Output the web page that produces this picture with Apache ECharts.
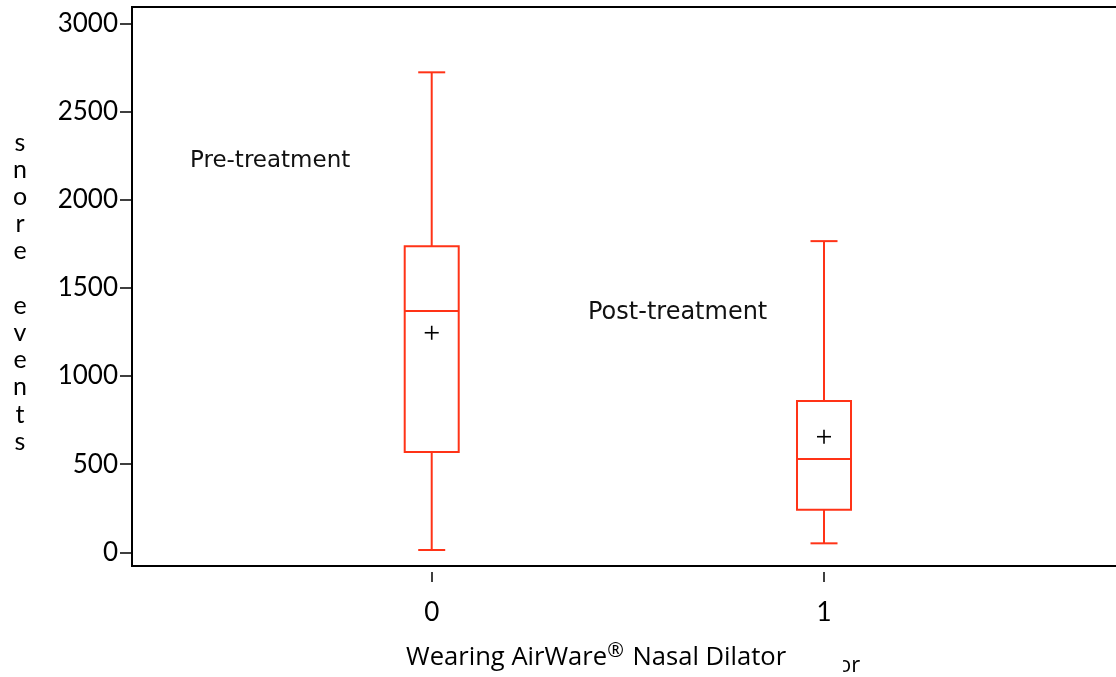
<!DOCTYPE html>
<html>
<head>
<meta charset="utf-8">
<script src="https://cdn.jsdelivr.net/npm/echarts@6/dist/echarts.min.js"></script>
<style>
html,body{margin:0;padding:0;background:#fff;}
#chart{width:1116px;height:677px;}
</style>
</head>
<body>
<div id="chart"></div>
<script>
const categories = [0, 1];
const whiskerLow = [13, 51];
const q1 = [569, 242];
const median = [1370, 529];
const q3 = [1737, 858];
const whiskerHigh = [2724, 1766];
const meanValues = [1246, 656];
const yTicks = [0, 500, 1000, 1500, 2000, 2500, 3000];
const groupLabels = ['Pre-treatment', 'Post-treatment'];
const yTitle = 'snore events';
const xTitleParts = ['Wearing AirWare', '\u00AE', ' Nasal Dilator'];

const RED = '#ff3317';
const boxData = categories.map((c, i) => [c, whiskerLow[i], q1[i], median[i], q3[i], whiskerHigh[i], meanValues[i]]);

function renderBox(params, api) {
  const x = api.value(0);
  const pLow = api.coord([x, api.value(1)]);
  const pQ1 = api.coord([x, api.value(2)]);
  const pMed = api.coord([x, api.value(3)]);
  const pQ3 = api.coord([x, api.value(4)]);
  const pHigh = api.coord([x, api.value(5)]);
  const pMean = api.coord([x, api.value(6)]);
  const cx = pQ1[0];
  const hw = 27, cw = 13.5, pm = 7;
  const ls = {stroke: RED, lineWidth: 2, fill: null};
  return {
    type: 'group',
    children: [
      {type: 'line', shape: {x1: cx, y1: pHigh[1], x2: cx, y2: pQ3[1]}, style: ls},
      {type: 'line', shape: {x1: cx - cw, y1: pHigh[1], x2: cx + cw, y2: pHigh[1]}, style: ls},
      {type: 'line', shape: {x1: cx, y1: pLow[1], x2: cx, y2: pQ1[1]}, style: ls},
      {type: 'line', shape: {x1: cx - cw, y1: pLow[1], x2: cx + cw, y2: pLow[1]}, style: ls},
      {type: 'rect', shape: {x: cx - hw, y: pQ3[1], width: hw * 2, height: pQ1[1] - pQ3[1]}, style: {stroke: RED, lineWidth: 2, fill: 'none'}},
      {type: 'line', shape: {x1: cx - hw, y1: pMed[1], x2: cx + hw, y2: pMed[1]}, style: ls},
      {type: 'line', shape: {x1: cx - pm, y1: pMean[1], x2: cx + pm, y2: pMean[1]}, style: {stroke: '#000', lineWidth: 1.6}},
      {type: 'line', shape: {x1: cx, y1: pMean[1] - pm, x2: cx, y2: pMean[1] + pm}, style: {stroke: '#000', lineWidth: 1.6}}
    ]
  };
}

const chart = echarts.init(document.getElementById('chart'), null, {renderer: 'canvas'});
chart.setOption({
  animation: false,
  backgroundColor: '#fff',
  grid: {left: 132, top: 7, width: 1004, height: 559, show: true, borderColor: '#000', borderWidth: 2, backgroundColor: 'transparent', containLabel: false, outerBoundsMode: 'none'},
  xAxis: [{
    type: 'value', min: -0.764, max: 1.7953, offset: 6,
    axisLine: {show: false, onZero: false},
    axisTick: {show: true, length: 10, lineStyle: {color: '#000', width: 1.5}, customValues: categories},
    axisLabel: {show: true, customValues: categories, margin: 28, fontFamily: 'Lato', fontSize: 26, color: '#000'},
    splitLine: {show: false}
  }],
  yAxis: [{
    type: 'value', min: -77.7, max: 3094.7,
    axisLine: {show: false, onZero: false},
    axisTick: {show: true, length: 12, lineStyle: {color: '#000', width: 1.5}, customValues: yTicks},
    axisLabel: {show: true, customValues: yTicks, margin: 14, fontFamily: 'Lato', fontSize: 26, color: '#000', formatter: v => String(v)},
    splitLine: {show: false}
  }],
  graphic: [
    {type: 'text', x: 20, y: 129, style: {text: yTitle.split('').join('\n'), fontFamily: 'Lato', fontSize: 25, lineHeight: 27.2, fill: '#000', align: 'center'}},
    {type: 'text', left: 190, top: 150, style: {text: groupLabels[0], fontFamily: 'DejaVu Sans', fontSize: 23, fill: '#111'}},
    {type: 'text', left: 588, top: 301, style: {text: groupLabels[1], fontFamily: 'DejaVu Sans', fontSize: 24, fill: '#111'}},
    {type: 'text', left: 406, top: 641, style: {
      text: xTitleParts[0] + '{sup|' + xTitleParts[1] + '}' + xTitleParts[2],
      fontFamily: 'Open Sans', fontSize: 25.6, fill: '#000', lineHeight: 34,
      rich: {sup: {fontFamily: 'Open Sans', fontSize: 20, verticalAlign: 'top', lineHeight: 34, padding: [0, 2, 12, 0]}}
    }},
    {type: 'text', left: 838, top: 655, style: {text: 'or', fontFamily: 'Open Sans', fontSize: 22, fill: '#000'}},
    {type: 'rect', shape: {x: 830, y: 650, width: 13, height: 27}, style: {fill: '#fff'}}
  ],
  series: [{
    type: 'custom',
    renderItem: renderBox,
    data: boxData,
    encode: {x: 0, y: [1, 2, 3, 4, 5, 6]},
    clip: false
  }]
});
</script>
</body>
</html>
